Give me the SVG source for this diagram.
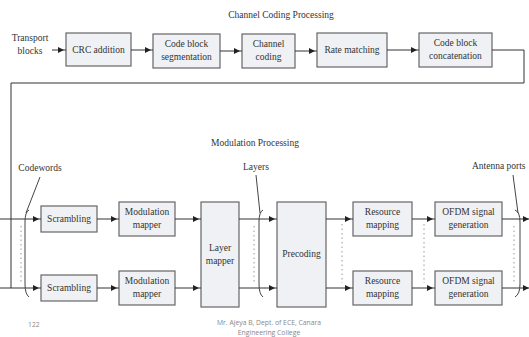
<svg xmlns="http://www.w3.org/2000/svg" width="529" height="337" viewBox="0 0 529 337">
<defs>
<marker id="ah" markerUnits="userSpaceOnUse" markerWidth="10" markerHeight="8" refX="8" refY="3" orient="auto">
<path d="M0,0 L6,3 L0,6 Z" fill="#222"/>
</marker>
<style>
.box{fill:#eff1f4;stroke:#666;stroke-width:1.2}
.t{font-family:"Liberation Serif",serif;font-size:9.5px;fill:#333;text-anchor:middle}
.lbl{font-family:"Liberation Serif",serif;font-size:9.5px;fill:#333}
.ln{fill:none;stroke:#333;stroke-width:1}
.dot{fill:none;stroke:#999;stroke-width:1;stroke-dasharray:1.5 3}
.br{fill:none;stroke:#444;stroke-width:1}
.foot{font-family:"Open Sans","Noto Sans",sans-serif;font-size:6.8px;fill:#888}
</style>
</defs>
<rect width="529" height="337" fill="#fff"/>

<text class="t" x="281" y="18">Channel Coding Processing</text>
<text class="t" x="30" y="41">Transport</text>
<text class="t" x="30" y="54">blocks</text>

<g id="n_crc"><rect class="box" x="66" y="33" width="65" height="33"/><text class="t" x="98.5" y="53">CRC addition</text></g>
<g id="n_cbs"><rect class="box" x="153" y="34" width="67" height="34"/><text class="t" x="186.5" y="47">Code block</text><text class="t" x="186.5" y="60">segmentation</text></g>
<g id="n_cc"><rect class="box" x="242" y="34" width="53" height="34"/><text class="t" x="268.5" y="47">Channel</text><text class="t" x="268.5" y="60">coding</text></g>
<g id="n_rm"><rect class="box" x="317" y="33" width="70" height="34"/><text class="t" x="352" y="53">Rate matching</text></g>
<g id="n_cbc"><rect class="box" x="419" y="33" width="73" height="34"/><text class="t" x="455.5" y="46">Code block</text><text class="t" x="455.5" y="59">concatenation</text></g>

<text class="t" x="255" y="146">Modulation Processing</text>

<g id="n_scr1"><rect class="box" x="41" y="206" width="56" height="26"/><text class="t" x="69" y="222">Scrambling</text></g>
<g id="n_scr2"><rect class="box" x="41" y="275" width="56" height="26"/><text class="t" x="69" y="291">Scrambling</text></g>
<g id="n_mm1"><rect class="box" x="119" y="202" width="56" height="34"/><text class="t" x="147" y="215">Modulation</text><text class="t" x="147" y="228">mapper</text></g>
<g id="n_mm2"><rect class="box" x="119" y="271" width="56" height="34"/><text class="t" x="147" y="284">Modulation</text><text class="t" x="147" y="297">mapper</text></g>
<g id="n_lm"><rect class="box" x="201" y="202" width="38" height="105"/><text class="t" x="220" y="251">Layer</text><text class="t" x="220" y="264">mapper</text></g>
<g id="n_pre"><rect class="box" x="277" y="202" width="49" height="105"/><text class="t" x="301.5" y="257">Precoding</text></g>
<g id="n_res1"><rect class="box" x="353" y="202" width="59" height="34"/><text class="t" x="382.5" y="215">Resource</text><text class="t" x="382.5" y="228">mapping</text></g>
<g id="n_res2"><rect class="box" x="353" y="271" width="59" height="34"/><text class="t" x="382.5" y="284">Resource</text><text class="t" x="382.5" y="297">mapping</text></g>
<g id="n_ofdm1"><rect class="box" x="435" y="202" width="67" height="34"/><text class="t" x="468.5" y="215">OFDM signal</text><text class="t" x="468.5" y="228">generation</text></g>
<g id="n_ofdm2"><rect class="box" x="435" y="271" width="67" height="34"/><text class="t" x="468.5" y="284">OFDM signal</text><text class="t" x="468.5" y="297">generation</text></g>

<text class="t" x="40" y="171">Codewords</text>
<text class="t" x="256" y="170">Layers</text>
<text class="lbl" x="472" y="169">Antenna ports</text>

<g id="connectors">
<path class="ln" d="M52,50 H66" marker-end="url(#ah)"/>
<path class="ln" d="M131,50 H153" marker-end="url(#ah)"/>
<path class="ln" d="M220,51 H242" marker-end="url(#ah)"/>
<path class="ln" d="M295,51 H317" marker-end="url(#ah)"/>
<path class="ln" d="M387,50 H419" marker-end="url(#ah)"/>
<path class="ln" d="M492,50 H524 V83 H11 V288"/>

<path class="ln" d="M0,219 H41" marker-end="url(#ah)"/>
<path class="ln" d="M97,219 H119" marker-end="url(#ah)"/>
<path class="ln" d="M175,219 H201" marker-end="url(#ah)"/>
<path class="ln" d="M239,219 H277" marker-end="url(#ah)"/>
<path class="ln" d="M326,219 H353" marker-end="url(#ah)"/>
<path class="ln" d="M412,219 H435" marker-end="url(#ah)"/>
<path class="ln" d="M502,219 H531" marker-end="url(#ah)"/>

<path class="ln" d="M0,288 H41" marker-end="url(#ah)"/>
<path class="ln" d="M97,288 H119" marker-end="url(#ah)"/>
<path class="ln" d="M175,288 H201" marker-end="url(#ah)"/>
<path class="ln" d="M239,288 H277" marker-end="url(#ah)"/>
<path class="ln" d="M326,288 H353" marker-end="url(#ah)"/>
<path class="ln" d="M412,288 H435" marker-end="url(#ah)"/>
<path class="ln" d="M502,288 H531" marker-end="url(#ah)"/>

<path class="dot" d="M21,226 V283"/>
<path class="dot" d="M254,226 V283"/>
<path class="dot" d="M342,224 V283"/>
<path class="dot" d="M424,224 V283"/>
<path class="dot" d="M514,226 V283"/>

<path class="br" d="M40,177 L26,213"/>
<path class="br" d="M29,210 Q25,212 25,222 V284 Q25,294 29,297"/>
<path class="br" d="M256,175 L260,213"/>
<path class="br" d="M263,210 Q259,212 259,222 V284 Q259,294 263,297"/>
<path class="br" d="M513,175 L518,213"/>
<path class="br" d="M515,210 Q520,212 520,222 V284 Q520,294 515,297"/>
</g>

<text class="foot" x="28" y="327">122</text>
<text class="foot" x="269" y="325" text-anchor="middle">Mr. Ajeya B, Dept. of ECE, Canara</text>
<text class="foot" x="269" y="335" text-anchor="middle">Engineering College</text>
</svg>
